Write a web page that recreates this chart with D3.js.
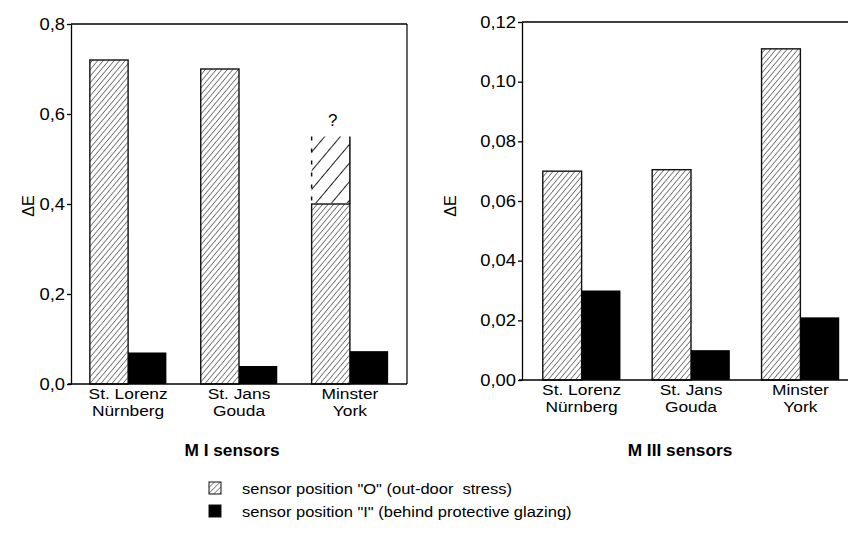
<!DOCTYPE html>
<html>
<head>
<meta charset="utf-8">
<script src="https://cdn.jsdelivr.net/npm/d3@7"></script>
<style>
  html, body { margin: 0; padding: 0; background: #fff; }
  svg { display: block; font-family: "Liberation Sans", Arial, sans-serif; }
</style>
</head>
<body>
<svg id="chart" width="848" height="550"></svg>
<script>
// ---------- DATA ----------
const categoryLine1 = ["St. Lorenz", "St. Jans", "Minster"];
const categoryLine2 = ["Nürnberg", "Gouda", "York"];

// M I sensors
const mIOutdoor = [0.72, 0.70, 0.40];
const mIOutdoorUncertain = [null, null, 0.55];
const mIIndoor = [0.07, 0.04, 0.073];
const mITicks = [0, 0.2, 0.4, 0.6, 0.8];
const mITickLabels = ["0,0", "0,2", "0,4", "0,6", "0,8"];

// M III sensors
const mIIIOutdoor = [0.070, 0.0705, 0.111];
const mIIIIndoor = [0.030, 0.010, 0.021];
const mIIITicks = [0, 0.02, 0.04, 0.06, 0.08, 0.10, 0.12];
const mIIITickLabels = ["0,00", "0,02", "0,04", "0,06", "0,08", "0,10", "0,12"];

const titles = ["M I sensors", "M III sensors"];
const yLabel = "\u0394E";
const legendLabels = [
  "sensor position \"O\" (out-door\u00a0 stress)",
  "sensor position \"I\" (behind protective glazing)"
];

// ---------- DRAW ----------
const svg = d3.select("#chart");
const defs = svg.append("defs");

// stretch a text element horizontally about its anchor point
function stretch(sel, sx) {
  sel.each(function () {
    const t = d3.select(this);
    const x = +t.attr("x") || 0, y = +t.attr("y") || 0;
    t.attr("transform", `translate(${x},${y}) scale(${sx},1) translate(${-x},${-y})`);
  });
}

const fine = defs.append("pattern")
  .attr("id", "hatch").attr("patternUnits", "userSpaceOnUse")
  .attr("width", 4.2).attr("height", 4.2)
  .attr("patternTransform", "rotate(40)");
fine.append("rect").attr("width", 4.2).attr("height", 4.2).attr("fill", "#fff");
fine.append("line").attr("x1", 0).attr("y1", 0).attr("x2", 0).attr("y2", 4.2)
  .attr("stroke", "#1a1a1a").attr("stroke-width", 1.1);

const coarse = defs.append("pattern")
  .attr("id", "hatchCoarse").attr("patternUnits", "userSpaceOnUse")
  .attr("width", 12).attr("height", 12)
  .attr("patternTransform", "rotate(40)");
coarse.append("rect").attr("width", 12).attr("height", 12).attr("fill", "#fff");
coarse.append("line").attr("x1", 0).attr("y1", 0).attr("x2", 0).attr("y2", 12)
  .attr("stroke", "#111").attr("stroke-width", 1.9);

const legendHatch = defs.append("pattern")
  .attr("id", "hatchLegend").attr("patternUnits", "userSpaceOnUse")
  .attr("width", 4).attr("height", 4)
  .attr("patternTransform", "rotate(45)");
legendHatch.append("rect").attr("width", 4).attr("height", 4).attr("fill", "#fff");
legendHatch.append("line").attr("x1", 0).attr("y1", 0).attr("x2", 0).attr("y2", 4)
  .attr("stroke", "#222").attr("stroke-width", 1);

function panel(cfg) {
  const g = svg.append("g");
  const x = d3.scaleBand().domain(d3.range(3))
    .range([cfg.x0, cfg.x1]).paddingInner(cfg.pi).paddingOuter(cfg.po);
  const sub = d3.scaleBand().domain([0, 1]).range([0, x.bandwidth()]);
  const y = d3.scaleLinear().domain(cfg.domain).range([cfg.y0, cfg.y1]);

  // bars: outdoor (hatched)
  g.selectAll("rect.out").data(cfg.outdoor).join("rect")
    .attr("class", "out")
    .attr("x", (d, i) => x(i) + sub(0))
    .attr("width", sub.bandwidth())
    .attr("y", d => y(d))
    .attr("height", d => y(0) - y(d))
    .attr("fill", "url(#hatch)")
    .attr("stroke", "#111").attr("stroke-width", 1.4);

  // uncertain extension
  if (cfg.uncertain) {
    cfg.uncertain.forEach((d, i) => {
      if (d == null) return;
      const bx = x(i) + sub(0), bw = sub.bandwidth();
      const top = y(d), bot = y(cfg.outdoor[i]);
      g.append("rect").attr("x", bx).attr("y", top).attr("width", bw)
        .attr("height", bot - top - 1).attr("fill", "url(#hatchCoarse)");
      g.append("line").attr("x1", bx).attr("x2", bx).attr("y1", top).attr("y2", bot)
        .attr("stroke", "#111").attr("stroke-width", 1.5).attr("stroke-dasharray", "4,8");
      g.append("line").attr("x1", bx + bw).attr("x2", bx + bw).attr("y1", top).attr("y2", bot)
        .attr("stroke", "#111").attr("stroke-width", 1.5);
      g.append("text").attr("x", bx + bw / 2 + 2).attr("y", top - 11)
        .attr("text-anchor", "middle").attr("font-size", 17).text("?");
    });
  }

  // bars: indoor (black)
  g.selectAll("rect.in").data(cfg.indoor).join("rect")
    .attr("class", "in")
    .attr("x", (d, i) => x(i) + sub(1))
    .attr("width", sub.bandwidth())
    .attr("y", d => y(d))
    .attr("height", d => y(0) - y(d))
    .attr("fill", "#000");

  // frame
  g.append("line").attr("x1", cfg.x0).attr("x2", cfg.frameRight)
    .attr("y1", cfg.y1).attr("y2", cfg.y1).attr("stroke", "#000").attr("stroke-width", 1.6);
  g.append("line").attr("x1", cfg.x0 - 3).attr("x2", cfg.frameRight)
    .attr("y1", cfg.y0).attr("y2", cfg.y0).attr("stroke", "#000").attr("stroke-width", 1.6);
  if (cfg.frameRight < 848) {
    g.append("line").attr("x1", cfg.frameRight).attr("x2", cfg.frameRight)
      .attr("y1", cfg.y1).attr("y2", cfg.y0).attr("stroke", "#000").attr("stroke-width", 1.2);
  }

  // y axis
  const yAxis = d3.axisLeft(y).tickValues(cfg.ticks)
    .tickFormat((d, i) => cfg.tickLabels[i]).tickSizeInner(4).tickSizeOuter(0).tickPadding(2);
  const ya = g.append("g").attr("transform", `translate(${cfg.x0},0)`).call(yAxis);
  ya.select(".domain").attr("stroke", "#000").attr("stroke-width", 1.3);
  ya.selectAll("line").attr("stroke", "#000").attr("stroke-width", 1.3);
  const tt = ya.selectAll("text").attr("font-size", 16).attr("fill", "#000")
    .attr("font-family", "'Liberation Sans', Arial, sans-serif");
  stretch(tt, 1.15);

  // y label
  g.append("text")
    .attr("transform", `translate(${cfg.yLabelX},${cfg.yLabelY}) rotate(-90)`)
    .attr("text-anchor", "middle").attr("font-size", 16).text(yLabel);

  // category labels
  const cats = g.selectAll("text.cat").data(categoryLine1).join("text")
    .attr("class", "cat")
    .attr("x", (d, i) => x(i) + x.bandwidth() / 2)
    .attr("y", cfg.y0 + 15)
    .attr("text-anchor", "middle").attr("font-size", 15.5);
  cats.append("tspan").text(d => d);
  cats.append("tspan").attr("x", (d, i) => x(i) + x.bandwidth() / 2).attr("dy", 17.5)
    .text((d, i) => categoryLine2[i]);
  stretch(cats, 1.12);

  // title
  const t = g.append("text").attr("x", cfg.titleX).attr("y", 456)
    .attr("text-anchor", "middle").attr("font-size", 16).attr("font-weight", "bold")
    .text(cfg.title);
  stretch(t, 1.08);
}

panel({
  x0: 71, x1: 407, frameRight: 407, pi: 0.31, po: 0.17,
  y0: 384, y1: 24, domain: [0, 0.8],
  outdoor: mIOutdoor, uncertain: mIOutdoorUncertain, indoor: mIIndoor,
  ticks: mITicks, tickLabels: mITickLabels,
  yLabelX: 34, yLabelY: 206, titleX: 232, title: titles[0]
});

panel({
  x0: 522, x1: 860, frameRight: 848, pi: 0.29, po: 0.19,
  y0: 380, y1: 22, domain: [0, 0.12],
  outdoor: mIIIOutdoor, uncertain: null, indoor: mIIIIndoor,
  ticks: mIIITicks, tickLabels: mIIITickLabels,
  yLabelX: 456, yLabelY: 206, titleX: 680, title: titles[1]
});

// legend
const legend = svg.append("g");
const legendFills = ["url(#hatchLegend)", "#000"];
legend.selectAll("rect").data(legendLabels).join("rect")
  .attr("x", 209).attr("y", (d, i) => 482 + i * 23)
  .attr("width", 12).attr("height", 12)
  .attr("fill", (d, i) => legendFills[i])
  .attr("stroke", "#111").attr("stroke-width", 1);
const lt = legend.selectAll("text").data(legendLabels).join("text")
  .attr("x", 242).attr("y", (d, i) => 494 + i * 23)
  .attr("font-size", 15).text(d => d);
stretch(lt, 1.1);
</script>
</body>
</html>
